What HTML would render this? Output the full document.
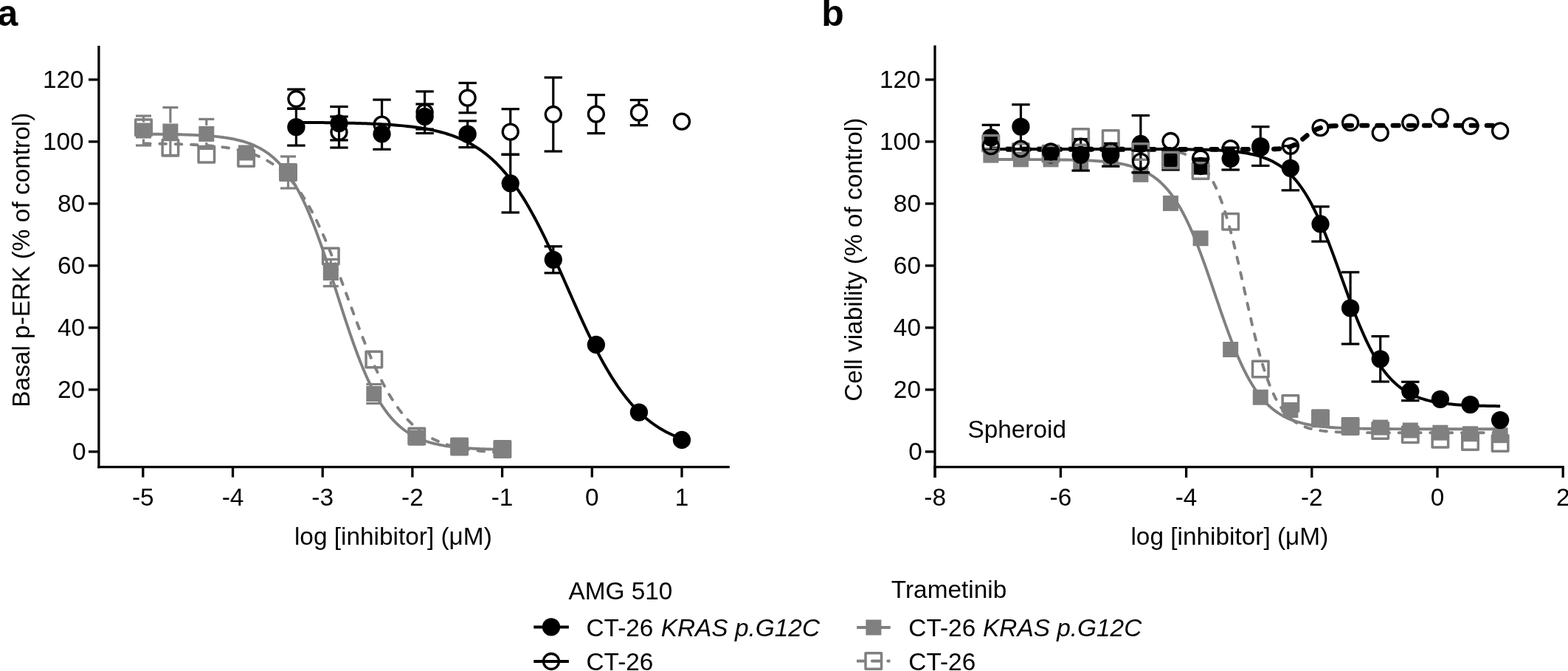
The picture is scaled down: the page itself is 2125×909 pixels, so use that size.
<!DOCTYPE html>
<html><head><meta charset="utf-8"><style>
html,body{margin:0;padding:0;background:#fff;}
svg{display:block;}
</style></head><body>
<svg width="2125" height="909" viewBox="0 0 2125 909">
<rect x="0" y="0" width="2125" height="909" fill="#fff"/>
<g font-family='"Liberation Sans", Arial, Helvetica, sans-serif' fill="#000">
<text x="-3.40" y="34.85" text-anchor="start" font-size="50" font-weight="bold">a</text>
<text x="1113.25" y="34.85" text-anchor="start" font-size="50" font-weight="bold">b</text>
<line x1="133.90" y1="61.90" x2="133.90" y2="634.25" stroke="#000" stroke-width="3.3" />
<line x1="132.25" y1="632.60" x2="988.80" y2="632.60" stroke="#000" stroke-width="3.3" />
<line x1="120.00" y1="611.90" x2="133.90" y2="611.90" stroke="#000" stroke-width="3.3" />
<text x="116.50" y="623.00" text-anchor="end" font-size="33.4" >0</text>
<line x1="120.00" y1="527.90" x2="133.90" y2="527.90" stroke="#000" stroke-width="3.3" />
<text x="115.10" y="539.00" text-anchor="end" font-size="33.4" >20</text>
<line x1="120.00" y1="443.90" x2="133.90" y2="443.90" stroke="#000" stroke-width="3.3" />
<text x="115.10" y="455.00" text-anchor="end" font-size="33.4" >40</text>
<line x1="120.00" y1="359.90" x2="133.90" y2="359.90" stroke="#000" stroke-width="3.3" />
<text x="115.10" y="371.00" text-anchor="end" font-size="33.4" >60</text>
<line x1="120.00" y1="275.90" x2="133.90" y2="275.90" stroke="#000" stroke-width="3.3" />
<text x="115.10" y="287.00" text-anchor="end" font-size="33.4" >80</text>
<line x1="120.00" y1="191.90" x2="133.90" y2="191.90" stroke="#000" stroke-width="3.3" />
<text x="113.60" y="203.00" text-anchor="end" font-size="33.4" >100</text>
<line x1="120.00" y1="107.90" x2="133.90" y2="107.90" stroke="#000" stroke-width="3.3" />
<text x="113.60" y="119.00" text-anchor="end" font-size="33.4" >120</text>
<line x1="193.80" y1="632.60" x2="193.80" y2="646.60" stroke="#000" stroke-width="3.3" />
<text x="193.80" y="684.60" text-anchor="middle" font-size="33.4" >-5</text>
<line x1="315.50" y1="632.60" x2="315.50" y2="646.60" stroke="#000" stroke-width="3.3" />
<text x="315.50" y="684.60" text-anchor="middle" font-size="33.4" >-4</text>
<line x1="437.20" y1="632.60" x2="437.20" y2="646.60" stroke="#000" stroke-width="3.3" />
<text x="437.20" y="684.60" text-anchor="middle" font-size="33.4" >-3</text>
<line x1="558.90" y1="632.60" x2="558.90" y2="646.60" stroke="#000" stroke-width="3.3" />
<text x="558.90" y="684.60" text-anchor="middle" font-size="33.4" >-2</text>
<line x1="680.60" y1="632.60" x2="680.60" y2="646.60" stroke="#000" stroke-width="3.3" />
<text x="680.60" y="684.60" text-anchor="middle" font-size="33.4" >-1</text>
<line x1="802.30" y1="632.60" x2="802.30" y2="646.60" stroke="#000" stroke-width="3.3" />
<text x="802.30" y="684.60" text-anchor="middle" font-size="33.4" >0</text>
<line x1="924.00" y1="632.60" x2="924.00" y2="646.60" stroke="#000" stroke-width="3.3" />
<text x="924.00" y="684.60" text-anchor="middle" font-size="33.4" >1</text>
<line x1="1267.00" y1="61.60" x2="1267.00" y2="647.00" stroke="#000" stroke-width="3.3" />
<line x1="1265.35" y1="632.70" x2="2119.80" y2="632.70" stroke="#000" stroke-width="3.3" />
<line x1="1253.90" y1="611.90" x2="1267.00" y2="611.90" stroke="#000" stroke-width="3.3" />
<text x="1249.90" y="623.00" text-anchor="end" font-size="33.4" >0</text>
<line x1="1253.90" y1="527.90" x2="1267.00" y2="527.90" stroke="#000" stroke-width="3.3" />
<text x="1248.00" y="539.00" text-anchor="end" font-size="33.4" >20</text>
<line x1="1253.90" y1="443.90" x2="1267.00" y2="443.90" stroke="#000" stroke-width="3.3" />
<text x="1248.00" y="455.00" text-anchor="end" font-size="33.4" >40</text>
<line x1="1253.90" y1="359.90" x2="1267.00" y2="359.90" stroke="#000" stroke-width="3.3" />
<text x="1248.00" y="371.00" text-anchor="end" font-size="33.4" >60</text>
<line x1="1253.90" y1="275.90" x2="1267.00" y2="275.90" stroke="#000" stroke-width="3.3" />
<text x="1248.00" y="287.00" text-anchor="end" font-size="33.4" >80</text>
<line x1="1253.90" y1="191.90" x2="1267.00" y2="191.90" stroke="#000" stroke-width="3.3" />
<text x="1247.70" y="203.00" text-anchor="end" font-size="33.4" >100</text>
<line x1="1253.90" y1="107.90" x2="1267.00" y2="107.90" stroke="#000" stroke-width="3.3" />
<text x="1247.70" y="119.00" text-anchor="end" font-size="33.4" >120</text>
<line x1="1267.20" y1="632.70" x2="1267.20" y2="647.00" stroke="#000" stroke-width="3.3" />
<text x="1267.20" y="684.60" text-anchor="middle" font-size="33.4" >-8</text>
<line x1="1437.40" y1="632.70" x2="1437.40" y2="647.00" stroke="#000" stroke-width="3.3" />
<text x="1437.40" y="684.60" text-anchor="middle" font-size="33.4" >-6</text>
<line x1="1607.60" y1="632.70" x2="1607.60" y2="647.00" stroke="#000" stroke-width="3.3" />
<text x="1607.60" y="684.60" text-anchor="middle" font-size="33.4" >-4</text>
<line x1="1777.80" y1="632.70" x2="1777.80" y2="647.00" stroke="#000" stroke-width="3.3" />
<text x="1777.80" y="684.60" text-anchor="middle" font-size="33.4" >-2</text>
<line x1="1948.00" y1="632.70" x2="1948.00" y2="647.00" stroke="#000" stroke-width="3.3" />
<text x="1948.00" y="684.60" text-anchor="middle" font-size="33.4" >0</text>
<line x1="2118.20" y1="632.70" x2="2118.20" y2="647.00" stroke="#000" stroke-width="3.3" />
<text x="2118.20" y="684.60" text-anchor="middle" font-size="33.4" >2</text>
<text transform="translate(39.6,551.7) rotate(-90)" font-size="33.4">Basal p-ERK (% of control)</text>
<text transform="translate(1168.1,543.8) rotate(-90)" font-size="33.4">Cell viability (% of control)</text>
<text x="398.90" y="738.20" text-anchor="start" font-size="33.4" >log [inhibitor] (μM)</text>
<text x="1532.40" y="738.20" text-anchor="start" font-size="33.4" >log [inhibitor] (μM)</text>
<text x="1311.40" y="593.10" text-anchor="start" font-size="33.4" >Spheroid</text>
</g>
<path d="M194.50,181.63 L196.94,181.64 L199.39,181.66 L201.83,181.67 L204.28,181.69 L206.72,181.71 L209.17,181.73 L211.61,181.75 L214.05,181.78 L216.50,181.80 L218.94,181.83 L221.39,181.86 L223.83,181.89 L226.27,181.93 L228.72,181.97 L231.16,182.01 L233.61,182.05 L236.05,182.10 L238.50,182.15 L240.94,182.20 L243.38,182.26 L245.83,182.32 L248.27,182.38 L250.72,182.45 L253.16,182.53 L255.61,182.61 L258.05,182.70 L260.49,182.80 L262.94,182.90 L265.38,183.01 L267.83,183.12 L270.27,183.25 L272.72,183.38 L275.16,183.53 L277.60,183.68 L280.05,183.85 L282.49,184.03 L284.94,184.22 L287.38,184.43 L289.82,184.65 L292.27,184.89 L294.71,185.14 L297.16,185.42 L299.60,185.71 L302.05,186.03 L304.49,186.37 L306.93,186.73 L309.38,187.12 L311.82,187.54 L314.27,187.98 L316.71,188.46 L319.16,188.98 L321.60,189.53 L324.04,190.12 L326.49,190.75 L328.93,191.43 L331.38,192.16 L333.82,192.94 L336.26,193.77 L338.71,194.66 L341.15,195.61 L343.60,196.63 L346.04,197.72 L348.49,198.88 L350.93,200.12 L353.37,201.45 L355.82,202.87 L358.26,204.38 L360.71,205.99 L363.15,207.70 L365.60,209.53 L368.04,211.47 L370.48,213.54 L372.93,215.74 L375.37,218.08 L377.82,220.56 L380.26,223.19 L382.71,225.97 L385.15,228.92 L387.59,232.04 L390.04,235.33 L392.48,238.80 L394.93,242.46 L397.37,246.32 L399.81,250.37 L402.26,254.63 L404.70,259.09 L407.15,263.76 L409.59,268.64 L412.04,273.73 L414.48,279.03 L416.92,284.55 L419.37,290.27 L421.81,296.20 L424.26,302.33 L426.70,308.66 L429.15,315.17 L431.59,321.86 L434.03,328.72 L436.48,335.73 L438.92,342.88 L441.37,350.16 L443.81,357.56 L446.25,365.04 L448.70,372.61 L451.14,380.23 L453.59,387.89 L456.03,395.57 L458.48,403.25 L460.92,410.91 L463.36,418.53 L465.81,426.09 L468.25,433.58 L470.70,440.97 L473.14,448.25 L475.59,455.40 L478.03,462.40 L480.47,469.26 L482.92,475.94 L485.36,482.45 L487.81,488.77 L490.25,494.89 L492.69,500.82 L495.14,506.54 L497.58,512.05 L500.03,517.34 L502.47,522.43 L504.92,527.30 L507.36,531.97 L509.80,536.42 L512.25,540.67 L514.69,544.72 L517.14,548.57 L519.58,552.23 L522.03,555.69 L524.47,558.98 L526.91,562.10 L529.36,565.04 L531.80,567.82 L534.25,570.44 L536.69,572.92 L539.14,575.25 L541.58,577.45 L544.02,579.51 L546.47,581.45 L548.91,583.28 L551.36,584.99 L553.80,586.60 L556.24,588.11 L558.69,589.52 L561.13,590.84 L563.58,592.08 L566.02,593.24 L568.47,594.33 L570.91,595.35 L573.35,596.30 L575.80,597.19 L578.24,598.02 L580.69,598.79 L583.13,599.52 L585.58,600.19 L588.02,600.83 L590.46,601.42 L592.91,601.97 L595.35,602.48 L597.80,602.96 L600.24,603.41 L602.68,603.82 L605.13,604.21 L607.57,604.57 L610.02,604.91 L612.46,605.23 L614.91,605.52 L617.35,605.79 L619.79,606.05 L622.24,606.29 L624.68,606.51 L627.13,606.71 L629.57,606.91 L632.02,607.08 L634.46,607.25 L636.90,607.41 L639.35,607.55 L641.79,607.69 L644.24,607.81 L646.68,607.93 L649.13,608.04 L651.57,608.14 L654.01,608.23 L656.46,608.32 L658.90,608.40 L661.35,608.48 L663.79,608.55 L666.23,608.62 L668.68,608.68 L671.12,608.73 L673.57,608.79 L676.01,608.84 L678.46,608.88 L680.90,608.93" fill="none" stroke="#808080" stroke-width="3.9"/>
<path d="M194.50,194.49 L196.94,194.51 L199.39,194.53 L201.83,194.56 L204.28,194.58 L206.72,194.61 L209.17,194.64 L211.61,194.67 L214.05,194.70 L216.50,194.74 L218.94,194.78 L221.39,194.82 L223.83,194.86 L226.27,194.90 L228.72,194.95 L231.16,195.00 L233.61,195.06 L236.05,195.11 L238.50,195.18 L240.94,195.24 L243.38,195.31 L245.83,195.39 L248.27,195.46 L250.72,195.55 L253.16,195.64 L255.61,195.73 L258.05,195.84 L260.49,195.95 L262.94,196.06 L265.38,196.18 L267.83,196.31 L270.27,196.45 L272.72,196.60 L275.16,196.76 L277.60,196.93 L280.05,197.11 L282.49,197.30 L284.94,197.50 L287.38,197.72 L289.82,197.95 L292.27,198.19 L294.71,198.45 L297.16,198.73 L299.60,199.02 L302.05,199.33 L304.49,199.67 L306.93,200.02 L309.38,200.40 L311.82,200.80 L314.27,201.22 L316.71,201.67 L319.16,202.15 L321.60,202.67 L324.04,203.21 L326.49,203.78 L328.93,204.40 L331.38,205.05 L333.82,205.74 L336.26,206.47 L338.71,207.25 L341.15,208.07 L343.60,208.95 L346.04,209.88 L348.49,210.86 L350.93,211.90 L353.37,213.01 L355.82,214.18 L358.26,215.42 L360.71,216.73 L363.15,218.12 L365.60,219.59 L368.04,221.14 L370.48,222.78 L372.93,224.51 L375.37,226.34 L377.82,228.27 L380.26,230.30 L382.71,232.45 L385.15,234.70 L387.59,237.08 L390.04,239.58 L392.48,242.20 L394.93,244.96 L397.37,247.85 L399.81,250.88 L402.26,254.05 L404.70,257.37 L407.15,260.84 L409.59,264.46 L412.04,268.24 L414.48,272.18 L416.92,276.28 L419.37,280.53 L421.81,284.95 L424.26,289.53 L426.70,294.27 L429.15,299.18 L431.59,304.23 L434.03,309.45 L436.48,314.81 L438.92,320.32 L441.37,325.98 L443.81,331.76 L446.25,337.68 L448.70,343.71 L451.14,349.86 L453.59,356.11 L456.03,362.45 L458.48,368.87 L460.92,375.36 L463.36,381.91 L465.81,388.50 L468.25,395.12 L470.70,401.76 L473.14,408.41 L475.59,415.05 L478.03,421.67 L480.47,428.26 L482.92,434.80 L485.36,441.28 L487.81,447.69 L490.25,454.01 L492.69,460.25 L495.14,466.38 L497.58,472.39 L500.03,478.29 L502.47,484.06 L504.92,489.69 L507.36,495.18 L509.80,500.52 L512.25,505.71 L514.69,510.74 L517.14,515.62 L519.58,520.33 L522.03,524.89 L524.47,529.28 L526.91,533.52 L529.36,537.59 L531.80,541.50 L534.25,545.26 L536.69,548.85 L539.14,552.30 L541.58,555.60 L544.02,558.75 L546.47,561.76 L548.91,564.63 L551.36,567.36 L553.80,569.97 L556.24,572.44 L558.69,574.80 L561.13,577.04 L563.58,579.17 L566.02,581.18 L568.47,583.10 L570.91,584.91 L573.35,586.63 L575.80,588.25 L578.24,589.79 L580.69,591.25 L583.13,592.62 L585.58,593.93 L588.02,595.15 L590.46,596.31 L592.91,597.41 L595.35,598.44 L597.80,599.42 L600.24,600.34 L602.68,601.21 L605.13,602.02 L607.57,602.80 L610.02,603.52 L612.46,604.21 L614.91,604.85 L617.35,605.46 L619.79,606.03 L622.24,606.56 L624.68,607.07 L627.13,607.55 L629.57,607.99 L632.02,608.42 L634.46,608.81 L636.90,609.18 L639.35,609.54 L641.79,609.86 L644.24,610.17 L646.68,610.47 L649.13,610.74 L651.57,611.00 L654.01,611.24 L656.46,611.47 L658.90,611.68 L661.35,611.88 L663.79,612.07 L666.23,612.25 L668.68,612.41 L671.12,612.57 L673.57,612.72 L676.01,612.86 L678.46,612.98 L680.90,613.11" fill="none" stroke="#808080" stroke-width="3.9" stroke-dasharray="8.6 12.7" stroke-dashoffset="20.66" stroke-linecap="round"/>
<path d="M401.41,165.83 L404.04,165.84 L406.66,165.86 L409.29,165.87 L411.91,165.89 L414.54,165.91 L417.17,165.93 L419.79,165.95 L422.42,165.97 L425.05,165.99 L427.67,166.01 L430.30,166.04 L432.92,166.06 L435.55,166.09 L438.18,166.12 L440.80,166.15 L443.43,166.18 L446.05,166.21 L448.68,166.25 L451.31,166.28 L453.93,166.32 L456.56,166.36 L459.18,166.40 L461.81,166.45 L464.44,166.50 L467.06,166.55 L469.69,166.60 L472.31,166.66 L474.94,166.72 L477.57,166.78 L480.19,166.85 L482.82,166.92 L485.44,166.99 L488.07,167.07 L490.70,167.15 L493.32,167.23 L495.95,167.33 L498.58,167.42 L501.20,167.52 L503.83,167.63 L506.45,167.74 L509.08,167.86 L511.71,167.98 L514.33,168.11 L516.96,168.25 L519.58,168.40 L522.21,168.55 L524.84,168.71 L527.46,168.88 L530.09,169.06 L532.71,169.25 L535.34,169.45 L537.97,169.66 L540.59,169.89 L543.22,170.12 L545.84,170.37 L548.47,170.63 L551.10,170.90 L553.72,171.19 L556.35,171.49 L558.98,171.81 L561.60,172.15 L564.23,172.50 L566.85,172.87 L569.48,173.27 L572.11,173.68 L574.73,174.12 L577.36,174.57 L579.98,175.06 L582.61,175.56 L585.24,176.10 L587.86,176.66 L590.49,177.25 L593.11,177.87 L595.74,178.52 L598.37,179.21 L600.99,179.93 L603.62,180.69 L606.24,181.49 L608.87,182.33 L611.50,183.21 L614.12,184.14 L616.75,185.11 L619.37,186.13 L622.00,187.20 L624.63,188.32 L627.25,189.50 L629.88,190.74 L632.51,192.03 L635.13,193.39 L637.76,194.81 L640.38,196.30 L643.01,197.87 L645.64,199.50 L648.26,201.21 L650.89,202.99 L653.51,204.86 L656.14,206.81 L658.77,208.85 L661.39,210.98 L664.02,213.20 L666.64,215.52 L669.27,217.93 L671.90,220.44 L674.52,223.06 L677.15,225.78 L679.77,228.62 L682.40,231.56 L685.03,234.61 L687.65,237.78 L690.28,241.06 L692.91,244.47 L695.53,247.99 L698.16,251.63 L700.78,255.39 L703.41,259.28 L706.04,263.29 L708.66,267.42 L711.29,271.67 L713.91,276.04 L716.54,280.53 L719.17,285.14 L721.79,289.86 L724.42,294.70 L727.04,299.65 L729.67,304.71 L732.30,309.86 L734.92,315.12 L737.55,320.47 L740.17,325.91 L742.80,331.43 L745.43,337.02 L748.05,342.69 L750.68,348.42 L753.30,354.20 L755.93,360.04 L758.56,365.91 L761.18,371.82 L763.81,377.75 L766.44,383.70 L769.06,389.65 L771.69,395.61 L774.31,401.55 L776.94,407.48 L779.57,413.38 L782.19,419.25 L784.82,425.08 L787.44,430.85 L790.07,436.57 L792.70,442.23 L795.32,447.81 L797.95,453.32 L800.57,458.74 L803.20,464.08 L805.83,469.31 L808.45,474.45 L811.08,479.49 L813.70,484.42 L816.33,489.24 L818.96,493.95 L821.58,498.54 L824.21,503.01 L826.84,507.36 L829.46,511.59 L832.09,515.70 L834.71,519.68 L837.34,523.55 L839.97,527.29 L842.59,530.91 L845.22,534.42 L847.84,537.80 L850.47,541.06 L853.10,544.21 L855.72,547.25 L858.35,550.17 L860.97,552.98 L863.60,555.69 L866.23,558.29 L868.85,560.78 L871.48,563.18 L874.10,565.48 L876.73,567.68 L879.36,569.80 L881.98,571.82 L884.61,573.76 L887.23,575.61 L889.86,577.38 L892.49,579.08 L895.11,580.70 L897.74,582.25 L900.37,583.73 L902.99,585.14 L905.62,586.49 L908.24,587.77 L910.87,589.00 L913.50,590.17 L916.12,591.28 L918.75,592.34 L921.37,593.36 L924.00,594.32" fill="none" stroke="#000" stroke-width="4.0"/>
<path d="M1342.85,215.99 L1346.32,215.99 L1349.79,215.99 L1353.26,216.00 L1356.72,216.00 L1360.19,216.00 L1363.66,216.01 L1367.13,216.01 L1370.60,216.02 L1374.07,216.02 L1377.54,216.03 L1381.00,216.04 L1384.47,216.04 L1387.94,216.05 L1391.41,216.06 L1394.88,216.08 L1398.35,216.09 L1401.82,216.10 L1405.29,216.12 L1408.75,216.14 L1412.22,216.16 L1415.69,216.18 L1419.16,216.21 L1422.63,216.24 L1426.10,216.27 L1429.57,216.30 L1433.03,216.34 L1436.50,216.39 L1439.97,216.44 L1443.44,216.49 L1446.91,216.55 L1450.38,216.62 L1453.85,216.70 L1457.31,216.79 L1460.78,216.88 L1464.25,216.99 L1467.72,217.11 L1471.19,217.25 L1474.66,217.40 L1478.13,217.57 L1481.59,217.75 L1485.06,217.96 L1488.53,218.20 L1492.00,218.46 L1495.47,218.75 L1498.94,219.08 L1502.41,219.45 L1505.87,219.85 L1509.34,220.31 L1512.81,220.81 L1516.28,221.38 L1519.75,222.01 L1523.22,222.71 L1526.69,223.49 L1530.15,224.36 L1533.62,225.32 L1537.09,226.40 L1540.56,227.59 L1544.03,228.92 L1547.50,230.39 L1550.97,232.02 L1554.43,233.82 L1557.90,235.82 L1561.37,238.02 L1564.84,240.46 L1568.31,243.14 L1571.78,246.08 L1575.25,249.32 L1578.71,252.86 L1582.18,256.74 L1585.65,260.97 L1589.12,265.56 L1592.59,270.55 L1596.06,275.94 L1599.53,281.76 L1602.99,288.00 L1606.46,294.68 L1609.93,301.80 L1613.40,309.35 L1616.87,317.33 L1620.34,325.71 L1623.81,334.47 L1627.27,343.59 L1630.74,353.01 L1634.21,362.70 L1637.68,372.61 L1641.15,382.68 L1644.62,392.84 L1648.09,403.04 L1651.56,413.21 L1655.02,423.30 L1658.49,433.23 L1661.96,442.95 L1665.43,452.42 L1668.90,461.57 L1672.37,470.38 L1675.84,478.82 L1679.30,486.85 L1682.77,494.45 L1686.24,501.63 L1689.71,508.37 L1693.18,514.67 L1696.65,520.54 L1700.12,525.98 L1703.58,531.02 L1707.05,535.67 L1710.52,539.94 L1713.99,543.86 L1717.46,547.45 L1720.93,550.72 L1724.40,553.70 L1727.86,556.42 L1731.33,558.88 L1734.80,561.11 L1738.27,563.14 L1741.74,564.97 L1745.21,566.62 L1748.68,568.11 L1752.14,569.45 L1755.61,570.66 L1759.08,571.75 L1762.55,572.73 L1766.02,573.61 L1769.49,574.40 L1772.96,575.11 L1776.42,575.75 L1779.89,576.33 L1783.36,576.84 L1786.83,577.30 L1790.30,577.71 L1793.77,578.08 L1797.24,578.41 L1800.70,578.71 L1804.17,578.98 L1807.64,579.22 L1811.11,579.43 L1814.58,579.62 L1818.05,579.79 L1821.52,579.94 L1824.98,580.08 L1828.45,580.20 L1831.92,580.31 L1835.39,580.41 L1838.86,580.50 L1842.33,580.58 L1845.80,580.65 L1849.26,580.71 L1852.73,580.77 L1856.20,580.82 L1859.67,580.86 L1863.14,580.90 L1866.61,580.94 L1870.08,580.97 L1873.54,581.00 L1877.01,581.02 L1880.48,581.05 L1883.95,581.07 L1887.42,581.09 L1890.89,581.10 L1894.36,581.12 L1897.82,581.13 L1901.29,581.14 L1904.76,581.15 L1908.23,581.16 L1911.70,581.17 L1915.17,581.18 L1918.64,581.19 L1922.11,581.19 L1925.57,581.20 L1929.04,581.20 L1932.51,581.21 L1935.98,581.21 L1939.45,581.21 L1942.92,581.22 L1946.39,581.22 L1949.85,581.22 L1953.32,581.22 L1956.79,581.23 L1960.26,581.23 L1963.73,581.23 L1967.20,581.23 L1970.67,581.23 L1974.13,581.23 L1977.60,581.23 L1981.07,581.24 L1984.54,581.24 L1988.01,581.24 L1991.48,581.24 L1994.95,581.24 L1998.41,581.24 L2001.88,581.24 L2005.35,581.24 L2008.82,581.24 L2012.29,581.24 L2015.76,581.24 L2019.23,581.24 L2022.69,581.24 L2026.16,581.24 L2029.63,581.24 L2033.10,581.24" fill="none" stroke="#808080" stroke-width="3.9"/>
<path d="M1342.85,200.30 L1346.32,200.30 L1349.79,200.30 L1353.26,200.30 L1356.72,200.30 L1360.19,200.30 L1363.66,200.30 L1367.13,200.30 L1370.60,200.30 L1374.07,200.30 L1377.54,200.30 L1381.00,200.30 L1384.47,200.30 L1387.94,200.30 L1391.41,200.30 L1394.88,200.30 L1398.35,200.30 L1401.82,200.30 L1405.29,200.30 L1408.75,200.30 L1412.22,200.30 L1415.69,200.30 L1419.16,200.30 L1422.63,200.30 L1426.10,200.30 L1429.57,200.30 L1433.03,200.31 L1436.50,200.31 L1439.97,200.31 L1443.44,200.31 L1446.91,200.31 L1450.38,200.31 L1453.85,200.31 L1457.31,200.31 L1460.78,200.31 L1464.25,200.31 L1467.72,200.32 L1471.19,200.32 L1474.66,200.32 L1478.13,200.32 L1481.59,200.33 L1485.06,200.33 L1488.53,200.34 L1492.00,200.34 L1495.47,200.35 L1498.94,200.36 L1502.41,200.37 L1505.87,200.38 L1509.34,200.40 L1512.81,200.41 L1516.28,200.43 L1519.75,200.45 L1523.22,200.48 L1526.69,200.51 L1530.15,200.55 L1533.62,200.59 L1537.09,200.64 L1540.56,200.70 L1544.03,200.77 L1547.50,200.86 L1550.97,200.96 L1554.43,201.07 L1557.90,201.21 L1561.37,201.37 L1564.84,201.56 L1568.31,201.78 L1571.78,202.04 L1575.25,202.34 L1578.71,202.70 L1582.18,203.13 L1585.65,203.62 L1589.12,204.21 L1592.59,204.89 L1596.06,205.69 L1599.53,206.63 L1602.99,207.73 L1606.46,209.02 L1609.93,210.52 L1613.40,212.28 L1616.87,214.32 L1620.34,216.70 L1623.81,219.46 L1627.27,222.66 L1630.74,226.36 L1634.21,230.62 L1637.68,235.50 L1641.15,241.08 L1644.62,247.43 L1648.09,254.61 L1651.56,262.68 L1655.02,271.69 L1658.49,281.68 L1661.96,292.65 L1665.43,304.60 L1668.90,317.48 L1672.37,331.20 L1675.84,345.67 L1679.30,360.73 L1682.77,376.21 L1686.24,391.91 L1689.71,407.64 L1693.18,423.17 L1696.65,438.32 L1700.12,452.90 L1703.58,466.77 L1707.05,479.80 L1710.52,491.92 L1713.99,503.06 L1717.46,513.22 L1720.93,522.41 L1724.40,530.64 L1727.86,537.97 L1731.33,544.46 L1734.80,550.17 L1738.27,555.17 L1741.74,559.54 L1745.21,563.33 L1748.68,566.61 L1752.14,569.45 L1755.61,571.89 L1759.08,573.99 L1762.55,575.79 L1766.02,577.34 L1769.49,578.66 L1772.96,579.79 L1776.42,580.76 L1779.89,581.58 L1783.36,582.29 L1786.83,582.89 L1790.30,583.40 L1793.77,583.83 L1797.24,584.20 L1800.70,584.52 L1804.17,584.78 L1807.64,585.01 L1811.11,585.20 L1814.58,585.37 L1818.05,585.51 L1821.52,585.63 L1824.98,585.73 L1828.45,585.82 L1831.92,585.89 L1835.39,585.95 L1838.86,586.00 L1842.33,586.05 L1845.80,586.09 L1849.26,586.12 L1852.73,586.15 L1856.20,586.17 L1859.67,586.19 L1863.14,586.21 L1866.61,586.22 L1870.08,586.23 L1873.54,586.24 L1877.01,586.25 L1880.48,586.26 L1883.95,586.27 L1887.42,586.27 L1890.89,586.28 L1894.36,586.28 L1897.82,586.28 L1901.29,586.29 L1904.76,586.29 L1908.23,586.29 L1911.70,586.29 L1915.17,586.29 L1918.64,586.29 L1922.11,586.30 L1925.57,586.30 L1929.04,586.30 L1932.51,586.30 L1935.98,586.30 L1939.45,586.30 L1942.92,586.30 L1946.39,586.30 L1949.85,586.30 L1953.32,586.30 L1956.79,586.30 L1960.26,586.30 L1963.73,586.30 L1967.20,586.30 L1970.67,586.30 L1974.13,586.30 L1977.60,586.30 L1981.07,586.30 L1984.54,586.30 L1988.01,586.30 L1991.48,586.30 L1994.95,586.30 L1998.41,586.30 L2001.88,586.30 L2005.35,586.30 L2008.82,586.30 L2012.29,586.30 L2015.76,586.30 L2019.23,586.30 L2022.69,586.30 L2026.16,586.30 L2029.63,586.30 L2033.10,586.30" fill="none" stroke="#808080" stroke-width="3.9" stroke-dasharray="8.6 12.7" stroke-dashoffset="21.25" stroke-linecap="round"/>
<path d="M1342.85,201.88 L1346.32,201.88 L1349.79,201.89 L1353.26,201.89 L1356.72,201.89 L1360.19,201.89 L1363.66,201.89 L1367.13,201.89 L1370.60,201.89 L1374.07,201.89 L1377.54,201.89 L1381.00,201.89 L1384.47,201.89 L1387.94,201.89 L1391.41,201.89 L1394.88,201.89 L1398.35,201.89 L1401.82,201.89 L1405.29,201.89 L1408.75,201.89 L1412.22,201.89 L1415.69,201.89 L1419.16,201.89 L1422.63,201.89 L1426.10,201.89 L1429.57,201.89 L1433.03,201.89 L1436.50,201.89 L1439.97,201.89 L1443.44,201.89 L1446.91,201.89 L1450.38,201.89 L1453.85,201.89 L1457.31,201.89 L1460.78,201.89 L1464.25,201.89 L1467.72,201.89 L1471.19,201.89 L1474.66,201.89 L1478.13,201.89 L1481.59,201.89 L1485.06,201.89 L1488.53,201.89 L1492.00,201.90 L1495.47,201.90 L1498.94,201.90 L1502.41,201.90 L1505.87,201.90 L1509.34,201.90 L1512.81,201.91 L1516.28,201.91 L1519.75,201.91 L1523.22,201.91 L1526.69,201.92 L1530.15,201.92 L1533.62,201.92 L1537.09,201.93 L1540.56,201.93 L1544.03,201.94 L1547.50,201.95 L1550.97,201.95 L1554.43,201.96 L1557.90,201.97 L1561.37,201.98 L1564.84,201.99 L1568.31,202.01 L1571.78,202.02 L1575.25,202.04 L1578.71,202.05 L1582.18,202.07 L1585.65,202.09 L1589.12,202.12 L1592.59,202.15 L1596.06,202.18 L1599.53,202.21 L1602.99,202.25 L1606.46,202.29 L1609.93,202.34 L1613.40,202.39 L1616.87,202.45 L1620.34,202.52 L1623.81,202.59 L1627.27,202.67 L1630.74,202.77 L1634.21,202.87 L1637.68,202.98 L1641.15,203.11 L1644.62,203.26 L1648.09,203.41 L1651.56,203.59 L1655.02,203.79 L1658.49,204.01 L1661.96,204.26 L1665.43,204.54 L1668.90,204.84 L1672.37,205.19 L1675.84,205.57 L1679.30,205.99 L1682.77,206.47 L1686.24,207.00 L1689.71,207.58 L1693.18,208.24 L1696.65,208.97 L1700.12,209.78 L1703.58,210.68 L1707.05,211.68 L1710.52,212.79 L1713.99,214.02 L1717.46,215.38 L1720.93,216.89 L1724.40,218.56 L1727.86,220.41 L1731.33,222.45 L1734.80,224.69 L1738.27,227.17 L1741.74,229.89 L1745.21,232.87 L1748.68,236.14 L1752.14,239.71 L1755.61,243.60 L1759.08,247.84 L1762.55,252.44 L1766.02,257.41 L1769.49,262.77 L1772.96,268.53 L1776.42,274.69 L1779.89,281.27 L1783.36,288.25 L1786.83,295.64 L1790.30,303.41 L1793.77,311.55 L1797.24,320.03 L1800.70,328.82 L1804.17,337.87 L1807.64,347.15 L1811.11,356.60 L1814.58,366.17 L1818.05,375.80 L1821.52,385.44 L1824.98,395.01 L1828.45,404.48 L1831.92,413.77 L1835.39,422.85 L1838.86,431.66 L1842.33,440.17 L1845.80,448.34 L1849.26,456.15 L1852.73,463.57 L1856.20,470.59 L1859.67,477.20 L1863.14,483.41 L1866.61,489.20 L1870.08,494.60 L1873.54,499.60 L1877.01,504.23 L1880.48,508.50 L1883.95,512.42 L1887.42,516.02 L1890.89,519.31 L1894.36,522.32 L1897.82,525.06 L1901.29,527.56 L1904.76,529.83 L1908.23,531.88 L1911.70,533.75 L1915.17,535.43 L1918.64,536.96 L1922.11,538.33 L1925.57,539.57 L1929.04,540.69 L1932.51,541.70 L1935.98,542.61 L1939.45,543.43 L1942.92,544.16 L1946.39,544.82 L1949.85,545.42 L1953.32,545.95 L1956.79,546.43 L1960.26,546.86 L1963.73,547.25 L1967.20,547.59 L1970.67,547.90 L1974.13,548.18 L1977.60,548.43 L1981.07,548.65 L1984.54,548.86 L1988.01,549.03 L1991.48,549.20 L1994.95,549.34 L1998.41,549.47 L2001.88,549.59 L2005.35,549.69 L2008.82,549.78 L2012.29,549.87 L2015.76,549.94 L2019.23,550.01 L2022.69,550.07 L2026.16,550.12 L2029.63,550.17 L2033.10,550.21" fill="none" stroke="#000" stroke-width="4.0"/>
<path d="M1342.85,202.40 L1346.32,202.40 L1349.79,202.40 L1353.26,202.40 L1356.72,202.40 L1360.19,202.40 L1363.66,202.40 L1367.13,202.40 L1370.60,202.40 L1374.07,202.40 L1377.54,202.40 L1381.00,202.40 L1384.47,202.40 L1387.94,202.40 L1391.41,202.40 L1394.88,202.40 L1398.35,202.40 L1401.82,202.40 L1405.29,202.40 L1408.75,202.40 L1412.22,202.40 L1415.69,202.40 L1419.16,202.40 L1422.63,202.40 L1426.10,202.40 L1429.57,202.40 L1433.03,202.40 L1436.50,202.40 L1439.97,202.40 L1443.44,202.40 L1446.91,202.40 L1450.38,202.40 L1453.85,202.40 L1457.31,202.40 L1460.78,202.40 L1464.25,202.40 L1467.72,202.40 L1471.19,202.40 L1474.66,202.40 L1478.13,202.40 L1481.59,202.40 L1485.06,202.40 L1488.53,202.40 L1492.00,202.40 L1495.47,202.40 L1498.94,202.40 L1502.41,202.40 L1505.87,202.40 L1509.34,202.40 L1512.81,202.40 L1516.28,202.40 L1519.75,202.40 L1523.22,202.40 L1526.69,202.40 L1530.15,202.40 L1533.62,202.40 L1537.09,202.40 L1540.56,202.40 L1544.03,202.40 L1547.50,202.40 L1550.97,202.40 L1554.43,202.40 L1557.90,202.40 L1561.37,202.40 L1564.84,202.40 L1568.31,202.40 L1571.78,202.40 L1575.25,202.40 L1578.71,202.40 L1582.18,202.40 L1585.65,202.40 L1589.12,202.40 L1592.59,202.40 L1596.06,202.40 L1599.53,202.40 L1602.99,202.40 L1606.46,202.40 L1609.93,202.40 L1613.40,202.40 L1616.87,202.40 L1620.34,202.40 L1623.81,202.40 L1627.27,202.40 L1630.74,202.40 L1634.21,202.40 L1637.68,202.40 L1641.15,202.40 L1644.62,202.40 L1648.09,202.40 L1651.56,202.40 L1655.02,202.40 L1658.49,202.40 L1661.96,202.40 L1665.43,202.40 L1668.90,202.40 L1672.37,202.40 L1675.84,202.40 L1679.30,202.40 L1682.77,202.40 L1686.24,202.39 L1689.71,202.39 L1693.18,202.39 L1696.65,202.38 L1700.12,202.37 L1703.58,202.36 L1707.05,202.34 L1710.52,202.32 L1713.99,202.28 L1717.46,202.23 L1720.93,202.16 L1724.40,202.06 L1727.86,201.91 L1731.33,201.71 L1734.80,201.41 L1738.27,201.00 L1741.74,200.44 L1745.21,199.66 L1748.68,198.61 L1752.14,197.22 L1755.61,195.46 L1759.08,193.30 L1762.55,190.77 L1766.02,187.97 L1769.49,185.07 L1772.96,182.23 L1776.42,179.64 L1779.89,177.40 L1783.36,175.56 L1786.83,174.10 L1790.30,172.99 L1793.77,172.16 L1797.24,171.55 L1800.70,171.12 L1804.17,170.80 L1807.64,170.58 L1811.11,170.43 L1814.58,170.32 L1818.05,170.24 L1821.52,170.19 L1824.98,170.15 L1828.45,170.12 L1831.92,170.10 L1835.39,170.09 L1838.86,170.08 L1842.33,170.07 L1845.80,170.07 L1849.26,170.07 L1852.73,170.06 L1856.20,170.06 L1859.67,170.06 L1863.14,170.06 L1866.61,170.06 L1870.08,170.06 L1873.54,170.06 L1877.01,170.06 L1880.48,170.06 L1883.95,170.06 L1887.42,170.06 L1890.89,170.06 L1894.36,170.06 L1897.82,170.06 L1901.29,170.06 L1904.76,170.06 L1908.23,170.06 L1911.70,170.06 L1915.17,170.06 L1918.64,170.06 L1922.11,170.06 L1925.57,170.06 L1929.04,170.06 L1932.51,170.06 L1935.98,170.06 L1939.45,170.06 L1942.92,170.06 L1946.39,170.06 L1949.85,170.06 L1953.32,170.06 L1956.79,170.06 L1960.26,170.06 L1963.73,170.06 L1967.20,170.06 L1970.67,170.06 L1974.13,170.06 L1977.60,170.06 L1981.07,170.06 L1984.54,170.06 L1988.01,170.06 L1991.48,170.06 L1994.95,170.06 L1998.41,170.06 L2001.88,170.06 L2005.35,170.06 L2008.82,170.06 L2012.29,170.06 L2015.76,170.06 L2019.23,170.06 L2022.69,170.06 L2026.16,170.06 L2029.63,170.06 L2033.10,170.06" fill="none" stroke="#000" stroke-width="6.6" stroke-dasharray="7.6 13.6" stroke-dashoffset="19.27" stroke-linecap="round"/>
<line x1="194.50" y1="157.00" x2="194.50" y2="165.50" stroke="#808080" stroke-width="3.2" />
<line x1="194.50" y1="188.50" x2="194.50" y2="197.00" stroke="#808080" stroke-width="3.2" />
<line x1="184.00" y1="157.00" x2="205.00" y2="157.00" stroke="#808080" stroke-width="3.2" />
<line x1="184.00" y1="197.00" x2="205.00" y2="197.00" stroke="#808080" stroke-width="3.2" />
<line x1="230.90" y1="145.60" x2="230.90" y2="166.50" stroke="#808080" stroke-width="3.2" />
<line x1="230.90" y1="189.50" x2="230.90" y2="210.40" stroke="#808080" stroke-width="3.2" />
<line x1="220.40" y1="145.60" x2="241.40" y2="145.60" stroke="#808080" stroke-width="3.2" />
<line x1="220.40" y1="210.40" x2="241.40" y2="210.40" stroke="#808080" stroke-width="3.2" />
<line x1="279.80" y1="161.40" x2="279.80" y2="169.90" stroke="#808080" stroke-width="3.2" />
<line x1="279.80" y1="192.90" x2="279.80" y2="201.40" stroke="#808080" stroke-width="3.2" />
<line x1="269.30" y1="161.40" x2="290.30" y2="161.40" stroke="#808080" stroke-width="3.2" />
<line x1="269.30" y1="201.40" x2="290.30" y2="201.40" stroke="#808080" stroke-width="3.2" />
<line x1="323.10" y1="199.00" x2="344.10" y2="199.00" stroke="#808080" stroke-width="3.2" />
<line x1="323.10" y1="215.00" x2="344.10" y2="215.00" stroke="#808080" stroke-width="3.2" />
<line x1="390.50" y1="212.00" x2="390.50" y2="222.00" stroke="#808080" stroke-width="3.2" />
<line x1="390.50" y1="245.00" x2="390.50" y2="255.00" stroke="#808080" stroke-width="3.2" />
<line x1="380.00" y1="212.00" x2="401.00" y2="212.00" stroke="#808080" stroke-width="3.2" />
<line x1="380.00" y1="255.00" x2="401.00" y2="255.00" stroke="#808080" stroke-width="3.2" />
<line x1="448.30" y1="351.30" x2="448.30" y2="358.00" stroke="#808080" stroke-width="3.2" />
<line x1="448.30" y1="381.00" x2="448.30" y2="387.70" stroke="#808080" stroke-width="3.2" />
<line x1="437.80" y1="351.30" x2="458.80" y2="351.30" stroke="#808080" stroke-width="3.2" />
<line x1="437.80" y1="387.70" x2="458.80" y2="387.70" stroke="#808080" stroke-width="3.2" />
<line x1="506.80" y1="520.50" x2="506.80" y2="522.00" stroke="#808080" stroke-width="3.2" />
<line x1="506.80" y1="545.00" x2="506.80" y2="546.50" stroke="#808080" stroke-width="3.2" />
<line x1="496.30" y1="520.50" x2="517.30" y2="520.50" stroke="#808080" stroke-width="3.2" />
<line x1="496.30" y1="546.50" x2="517.30" y2="546.50" stroke="#808080" stroke-width="3.2" />
<rect x="184.00" y="166.50" width="21.0" height="21.0" fill="#808080"/>
<rect x="220.40" y="167.50" width="21.0" height="21.0" fill="#808080"/>
<rect x="269.30" y="170.90" width="21.0" height="21.0" fill="#808080"/>
<rect x="323.10" y="196.50" width="21.0" height="21.0" fill="#808080"/>
<rect x="380.00" y="223.00" width="21.0" height="21.0" fill="#808080"/>
<rect x="437.80" y="359.00" width="21.0" height="21.0" fill="#808080"/>
<rect x="496.30" y="523.00" width="21.0" height="21.0" fill="#808080"/>
<rect x="554.30" y="582.50" width="21.0" height="21.0" fill="#808080"/>
<rect x="612.10" y="594.50" width="21.0" height="21.0" fill="#808080"/>
<rect x="670.40" y="598.10" width="21.0" height="21.0" fill="#808080"/>
<line x1="401.41" y1="147.30" x2="401.41" y2="160.70" stroke="#000" stroke-width="3.2" />
<line x1="401.41" y1="183.70" x2="401.41" y2="197.10" stroke="#000" stroke-width="3.2" />
<line x1="389.21" y1="147.30" x2="413.61" y2="147.30" stroke="#000" stroke-width="3.2" />
<line x1="389.21" y1="197.10" x2="413.61" y2="197.10" stroke="#000" stroke-width="3.2" />
<line x1="459.48" y1="144.50" x2="459.48" y2="155.70" stroke="#000" stroke-width="3.2" />
<line x1="459.48" y1="178.70" x2="459.48" y2="189.90" stroke="#000" stroke-width="3.2" />
<line x1="447.28" y1="144.50" x2="471.68" y2="144.50" stroke="#000" stroke-width="3.2" />
<line x1="447.28" y1="189.90" x2="471.68" y2="189.90" stroke="#000" stroke-width="3.2" />
<line x1="575.61" y1="141.00" x2="575.61" y2="146.50" stroke="#000" stroke-width="3.2" />
<line x1="575.61" y1="169.50" x2="575.61" y2="175.00" stroke="#000" stroke-width="3.2" />
<line x1="563.41" y1="141.00" x2="587.81" y2="141.00" stroke="#000" stroke-width="3.2" />
<line x1="563.41" y1="175.00" x2="587.81" y2="175.00" stroke="#000" stroke-width="3.2" />
<line x1="633.67" y1="163.80" x2="633.67" y2="170.20" stroke="#000" stroke-width="3.2" />
<line x1="633.67" y1="193.20" x2="633.67" y2="199.60" stroke="#000" stroke-width="3.2" />
<line x1="621.47" y1="163.80" x2="645.87" y2="163.80" stroke="#000" stroke-width="3.2" />
<line x1="621.47" y1="199.60" x2="645.87" y2="199.60" stroke="#000" stroke-width="3.2" />
<line x1="691.74" y1="209.10" x2="691.74" y2="237.00" stroke="#000" stroke-width="3.2" />
<line x1="691.74" y1="260.00" x2="691.74" y2="287.90" stroke="#000" stroke-width="3.2" />
<line x1="679.54" y1="209.10" x2="703.94" y2="209.10" stroke="#000" stroke-width="3.2" />
<line x1="679.54" y1="287.90" x2="703.94" y2="287.90" stroke="#000" stroke-width="3.2" />
<line x1="749.80" y1="333.80" x2="749.80" y2="340.30" stroke="#000" stroke-width="3.2" />
<line x1="749.80" y1="363.30" x2="749.80" y2="369.80" stroke="#000" stroke-width="3.2" />
<line x1="737.60" y1="333.80" x2="762.00" y2="333.80" stroke="#000" stroke-width="3.2" />
<line x1="737.60" y1="369.80" x2="762.00" y2="369.80" stroke="#000" stroke-width="3.2" />
<circle cx="401.41" cy="172.20" r="12.15" fill="#000"/>
<circle cx="459.48" cy="167.20" r="12.15" fill="#000"/>
<circle cx="517.54" cy="181.50" r="12.15" fill="#000"/>
<circle cx="575.61" cy="158.00" r="12.15" fill="#000"/>
<circle cx="633.67" cy="181.70" r="12.15" fill="#000"/>
<circle cx="691.74" cy="248.50" r="12.15" fill="#000"/>
<circle cx="749.80" cy="351.80" r="12.15" fill="#000"/>
<circle cx="807.87" cy="467.00" r="12.15" fill="#000"/>
<circle cx="865.93" cy="558.60" r="12.15" fill="#000"/>
<circle cx="924.00" cy="596.00" r="12.15" fill="#000"/>
<rect x="183.75" y="162.05" width="21.5" height="21.5" fill="none" stroke="#808080" stroke-width="3.5" stroke-linejoin="round"/>
<rect x="220.15" y="189.45" width="21.5" height="21.5" fill="none" stroke="#808080" stroke-width="3.5" stroke-linejoin="round"/>
<rect x="269.05" y="198.55" width="21.5" height="21.5" fill="none" stroke="#808080" stroke-width="3.5" stroke-linejoin="round"/>
<rect x="322.85" y="203.75" width="21.5" height="21.5" fill="none" stroke="#808080" stroke-width="3.5" stroke-linejoin="round"/>
<rect x="379.75" y="222.75" width="21.5" height="21.5" fill="none" stroke="#808080" stroke-width="3.5" stroke-linejoin="round"/>
<rect x="437.55" y="336.25" width="21.5" height="21.5" fill="none" stroke="#808080" stroke-width="3.5" stroke-linejoin="round"/>
<rect x="496.05" y="476.25" width="21.5" height="21.5" fill="none" stroke="#808080" stroke-width="3.5" stroke-linejoin="round"/>
<rect x="554.05" y="580.25" width="21.5" height="21.5" fill="none" stroke="#808080" stroke-width="3.5" stroke-linejoin="round"/>
<rect x="611.85" y="594.25" width="21.5" height="21.5" fill="none" stroke="#808080" stroke-width="3.5" stroke-linejoin="round"/>
<rect x="670.15" y="597.85" width="21.5" height="21.5" fill="none" stroke="#808080" stroke-width="3.5" stroke-linejoin="round"/>
<line x1="401.41" y1="121.00" x2="401.41" y2="122.50" stroke="#000" stroke-width="3.2" />
<line x1="401.41" y1="145.50" x2="401.41" y2="147.00" stroke="#000" stroke-width="3.2" />
<line x1="389.21" y1="121.00" x2="413.61" y2="121.00" stroke="#000" stroke-width="3.2" />
<line x1="389.21" y1="147.00" x2="413.61" y2="147.00" stroke="#000" stroke-width="3.2" />
<line x1="459.48" y1="158.00" x2="459.48" y2="167.50" stroke="#000" stroke-width="3.2" />
<line x1="459.48" y1="190.50" x2="459.48" y2="200.00" stroke="#000" stroke-width="3.2" />
<line x1="447.28" y1="158.00" x2="471.68" y2="158.00" stroke="#000" stroke-width="3.2" />
<line x1="447.28" y1="200.00" x2="471.68" y2="200.00" stroke="#000" stroke-width="3.2" />
<line x1="517.54" y1="135.10" x2="517.54" y2="157.20" stroke="#000" stroke-width="3.2" />
<line x1="517.54" y1="180.20" x2="517.54" y2="202.30" stroke="#000" stroke-width="3.2" />
<line x1="505.34" y1="135.10" x2="529.74" y2="135.10" stroke="#000" stroke-width="3.2" />
<line x1="505.34" y1="202.30" x2="529.74" y2="202.30" stroke="#000" stroke-width="3.2" />
<line x1="575.61" y1="123.90" x2="575.61" y2="140.70" stroke="#000" stroke-width="3.2" />
<line x1="575.61" y1="163.70" x2="575.61" y2="180.50" stroke="#000" stroke-width="3.2" />
<line x1="563.41" y1="123.90" x2="587.81" y2="123.90" stroke="#000" stroke-width="3.2" />
<line x1="563.41" y1="180.50" x2="587.81" y2="180.50" stroke="#000" stroke-width="3.2" />
<line x1="633.67" y1="112.40" x2="633.67" y2="121.10" stroke="#000" stroke-width="3.2" />
<line x1="633.67" y1="144.10" x2="633.67" y2="152.80" stroke="#000" stroke-width="3.2" />
<line x1="621.47" y1="112.40" x2="645.87" y2="112.40" stroke="#000" stroke-width="3.2" />
<line x1="621.47" y1="152.80" x2="645.87" y2="152.80" stroke="#000" stroke-width="3.2" />
<line x1="691.74" y1="147.70" x2="691.74" y2="167.10" stroke="#000" stroke-width="3.2" />
<line x1="691.74" y1="190.10" x2="691.74" y2="209.50" stroke="#000" stroke-width="3.2" />
<line x1="679.54" y1="147.70" x2="703.94" y2="147.70" stroke="#000" stroke-width="3.2" />
<line x1="679.54" y1="209.50" x2="703.94" y2="209.50" stroke="#000" stroke-width="3.2" />
<line x1="749.80" y1="105.00" x2="749.80" y2="143.50" stroke="#000" stroke-width="3.2" />
<line x1="749.80" y1="166.50" x2="749.80" y2="205.00" stroke="#000" stroke-width="3.2" />
<line x1="737.60" y1="105.00" x2="762.00" y2="105.00" stroke="#000" stroke-width="3.2" />
<line x1="737.60" y1="205.00" x2="762.00" y2="205.00" stroke="#000" stroke-width="3.2" />
<line x1="807.87" y1="128.60" x2="807.87" y2="143.10" stroke="#000" stroke-width="3.2" />
<line x1="807.87" y1="166.10" x2="807.87" y2="180.60" stroke="#000" stroke-width="3.2" />
<line x1="795.67" y1="128.60" x2="820.07" y2="128.60" stroke="#000" stroke-width="3.2" />
<line x1="795.67" y1="180.60" x2="820.07" y2="180.60" stroke="#000" stroke-width="3.2" />
<line x1="865.93" y1="135.50" x2="865.93" y2="141.10" stroke="#000" stroke-width="3.2" />
<line x1="865.93" y1="164.10" x2="865.93" y2="169.70" stroke="#000" stroke-width="3.2" />
<line x1="853.73" y1="135.50" x2="878.13" y2="135.50" stroke="#000" stroke-width="3.2" />
<line x1="853.73" y1="169.70" x2="878.13" y2="169.70" stroke="#000" stroke-width="3.2" />
<circle cx="401.41" cy="134.00" r="10.5" fill="none" stroke="#000" stroke-width="3.3"/>
<circle cx="459.48" cy="179.00" r="10.5" fill="none" stroke="#000" stroke-width="3.3"/>
<circle cx="517.54" cy="168.70" r="10.5" fill="none" stroke="#000" stroke-width="3.3"/>
<circle cx="575.61" cy="152.20" r="10.5" fill="none" stroke="#000" stroke-width="3.3"/>
<circle cx="633.67" cy="132.60" r="10.5" fill="none" stroke="#000" stroke-width="3.3"/>
<circle cx="691.74" cy="178.60" r="10.5" fill="none" stroke="#000" stroke-width="3.3"/>
<circle cx="749.80" cy="155.00" r="10.5" fill="none" stroke="#000" stroke-width="3.3"/>
<circle cx="807.87" cy="154.60" r="10.5" fill="none" stroke="#000" stroke-width="3.3"/>
<circle cx="865.93" cy="152.60" r="10.5" fill="none" stroke="#000" stroke-width="3.3"/>
<circle cx="924.00" cy="164.60" r="10.5" fill="none" stroke="#000" stroke-width="3.3"/>
<rect x="1332.35" y="199.70" width="21.0" height="21.0" fill="#808080"/>
<rect x="1372.95" y="205.40" width="21.0" height="21.0" fill="#808080"/>
<rect x="1413.56" y="205.40" width="21.0" height="21.0" fill="#808080"/>
<rect x="1454.16" y="208.90" width="21.0" height="21.0" fill="#808080"/>
<rect x="1494.76" y="203.50" width="21.0" height="21.0" fill="#808080"/>
<rect x="1535.37" y="225.90" width="21.0" height="21.0" fill="#808080"/>
<rect x="1575.97" y="264.90" width="21.0" height="21.0" fill="#808080"/>
<rect x="1616.57" y="312.30" width="21.0" height="21.0" fill="#808080"/>
<rect x="1657.17" y="463.00" width="21.0" height="21.0" fill="#808080"/>
<rect x="1697.78" y="527.70" width="21.0" height="21.0" fill="#808080"/>
<rect x="1738.38" y="545.00" width="21.0" height="21.0" fill="#808080"/>
<rect x="1778.98" y="556.20" width="21.0" height="21.0" fill="#808080"/>
<rect x="1819.59" y="567.10" width="21.0" height="21.0" fill="#808080"/>
<rect x="1860.19" y="568.60" width="21.0" height="21.0" fill="#808080"/>
<rect x="1900.79" y="572.50" width="21.0" height="21.0" fill="#808080"/>
<rect x="1941.39" y="575.70" width="21.0" height="21.0" fill="#808080"/>
<rect x="1982.00" y="577.30" width="21.0" height="21.0" fill="#808080"/>
<rect x="2022.60" y="579.20" width="21.0" height="21.0" fill="#808080"/>
<line x1="1342.85" y1="169.30" x2="1342.85" y2="174.80" stroke="#000" stroke-width="3.2" />
<line x1="1342.85" y1="197.80" x2="1342.85" y2="203.30" stroke="#000" stroke-width="3.2" />
<line x1="1330.65" y1="169.30" x2="1355.05" y2="169.30" stroke="#000" stroke-width="3.2" />
<line x1="1330.65" y1="203.30" x2="1355.05" y2="203.30" stroke="#000" stroke-width="3.2" />
<line x1="1383.45" y1="141.70" x2="1383.45" y2="160.20" stroke="#000" stroke-width="3.2" />
<line x1="1383.45" y1="183.20" x2="1383.45" y2="201.70" stroke="#000" stroke-width="3.2" />
<line x1="1371.25" y1="141.70" x2="1395.65" y2="141.70" stroke="#000" stroke-width="3.2" />
<line x1="1371.25" y1="201.70" x2="1395.65" y2="201.70" stroke="#000" stroke-width="3.2" />
<line x1="1411.86" y1="201.50" x2="1436.26" y2="201.50" stroke="#000" stroke-width="3.2" />
<line x1="1411.86" y1="217.50" x2="1436.26" y2="217.50" stroke="#000" stroke-width="3.2" />
<line x1="1464.66" y1="188.50" x2="1464.66" y2="198.30" stroke="#000" stroke-width="3.2" />
<line x1="1464.66" y1="221.30" x2="1464.66" y2="231.10" stroke="#000" stroke-width="3.2" />
<line x1="1452.46" y1="188.50" x2="1476.86" y2="188.50" stroke="#000" stroke-width="3.2" />
<line x1="1452.46" y1="231.10" x2="1476.86" y2="231.10" stroke="#000" stroke-width="3.2" />
<line x1="1505.26" y1="194.30" x2="1505.26" y2="198.30" stroke="#000" stroke-width="3.2" />
<line x1="1505.26" y1="221.30" x2="1505.26" y2="225.30" stroke="#000" stroke-width="3.2" />
<line x1="1493.06" y1="194.30" x2="1517.46" y2="194.30" stroke="#000" stroke-width="3.2" />
<line x1="1493.06" y1="225.30" x2="1517.46" y2="225.30" stroke="#000" stroke-width="3.2" />
<line x1="1545.87" y1="156.40" x2="1545.87" y2="183.50" stroke="#000" stroke-width="3.2" />
<line x1="1545.87" y1="206.50" x2="1545.87" y2="233.60" stroke="#000" stroke-width="3.2" />
<line x1="1533.67" y1="156.40" x2="1558.07" y2="156.40" stroke="#000" stroke-width="3.2" />
<line x1="1533.67" y1="233.60" x2="1558.07" y2="233.60" stroke="#000" stroke-width="3.2" />
<line x1="1586.47" y1="204.00" x2="1586.47" y2="205.50" stroke="#000" stroke-width="3.2" />
<line x1="1586.47" y1="228.50" x2="1586.47" y2="230.00" stroke="#000" stroke-width="3.2" />
<line x1="1574.27" y1="204.00" x2="1598.67" y2="204.00" stroke="#000" stroke-width="3.2" />
<line x1="1574.27" y1="230.00" x2="1598.67" y2="230.00" stroke="#000" stroke-width="3.2" />
<line x1="1614.87" y1="215.00" x2="1639.27" y2="215.00" stroke="#000" stroke-width="3.2" />
<line x1="1614.87" y1="235.00" x2="1639.27" y2="235.00" stroke="#000" stroke-width="3.2" />
<line x1="1667.67" y1="200.00" x2="1667.67" y2="203.50" stroke="#000" stroke-width="3.2" />
<line x1="1667.67" y1="226.50" x2="1667.67" y2="230.00" stroke="#000" stroke-width="3.2" />
<line x1="1655.47" y1="200.00" x2="1679.87" y2="200.00" stroke="#000" stroke-width="3.2" />
<line x1="1655.47" y1="230.00" x2="1679.87" y2="230.00" stroke="#000" stroke-width="3.2" />
<line x1="1708.28" y1="171.70" x2="1708.28" y2="186.60" stroke="#000" stroke-width="3.2" />
<line x1="1708.28" y1="209.60" x2="1708.28" y2="224.50" stroke="#000" stroke-width="3.2" />
<line x1="1696.08" y1="171.70" x2="1720.48" y2="171.70" stroke="#000" stroke-width="3.2" />
<line x1="1696.08" y1="224.50" x2="1720.48" y2="224.50" stroke="#000" stroke-width="3.2" />
<line x1="1748.88" y1="197.80" x2="1748.88" y2="216.30" stroke="#000" stroke-width="3.2" />
<line x1="1748.88" y1="239.30" x2="1748.88" y2="257.80" stroke="#000" stroke-width="3.2" />
<line x1="1736.68" y1="197.80" x2="1761.08" y2="197.80" stroke="#000" stroke-width="3.2" />
<line x1="1736.68" y1="257.80" x2="1761.08" y2="257.80" stroke="#000" stroke-width="3.2" />
<line x1="1789.48" y1="279.90" x2="1789.48" y2="292.00" stroke="#000" stroke-width="3.2" />
<line x1="1789.48" y1="315.00" x2="1789.48" y2="327.10" stroke="#000" stroke-width="3.2" />
<line x1="1777.28" y1="279.90" x2="1801.68" y2="279.90" stroke="#000" stroke-width="3.2" />
<line x1="1777.28" y1="327.10" x2="1801.68" y2="327.10" stroke="#000" stroke-width="3.2" />
<line x1="1830.09" y1="368.80" x2="1830.09" y2="405.90" stroke="#000" stroke-width="3.2" />
<line x1="1830.09" y1="428.90" x2="1830.09" y2="466.00" stroke="#000" stroke-width="3.2" />
<line x1="1817.89" y1="368.80" x2="1842.29" y2="368.80" stroke="#000" stroke-width="3.2" />
<line x1="1817.89" y1="466.00" x2="1842.29" y2="466.00" stroke="#000" stroke-width="3.2" />
<line x1="1870.69" y1="455.60" x2="1870.69" y2="474.80" stroke="#000" stroke-width="3.2" />
<line x1="1870.69" y1="497.80" x2="1870.69" y2="517.00" stroke="#000" stroke-width="3.2" />
<line x1="1858.49" y1="455.60" x2="1882.89" y2="455.60" stroke="#000" stroke-width="3.2" />
<line x1="1858.49" y1="517.00" x2="1882.89" y2="517.00" stroke="#000" stroke-width="3.2" />
<line x1="1911.29" y1="517.30" x2="1911.29" y2="518.50" stroke="#000" stroke-width="3.2" />
<line x1="1911.29" y1="541.50" x2="1911.29" y2="542.70" stroke="#000" stroke-width="3.2" />
<line x1="1899.09" y1="517.30" x2="1923.49" y2="517.30" stroke="#000" stroke-width="3.2" />
<line x1="1899.09" y1="542.70" x2="1923.49" y2="542.70" stroke="#000" stroke-width="3.2" />
<circle cx="1342.85" cy="186.30" r="12.15" fill="#000"/>
<circle cx="1383.45" cy="171.70" r="12.15" fill="#000"/>
<circle cx="1424.06" cy="209.50" r="12.15" fill="#000"/>
<circle cx="1464.66" cy="209.80" r="12.15" fill="#000"/>
<circle cx="1505.26" cy="209.80" r="12.15" fill="#000"/>
<circle cx="1545.87" cy="195.00" r="12.15" fill="#000"/>
<circle cx="1586.47" cy="217.00" r="12.15" fill="#000"/>
<circle cx="1627.07" cy="225.00" r="12.15" fill="#000"/>
<circle cx="1667.67" cy="215.00" r="12.15" fill="#000"/>
<circle cx="1708.28" cy="198.10" r="12.15" fill="#000"/>
<circle cx="1748.88" cy="227.80" r="12.15" fill="#000"/>
<circle cx="1789.48" cy="303.50" r="12.15" fill="#000"/>
<circle cx="1830.09" cy="417.40" r="12.15" fill="#000"/>
<circle cx="1870.69" cy="486.30" r="12.15" fill="#000"/>
<circle cx="1911.29" cy="530.00" r="12.15" fill="#000"/>
<circle cx="1951.89" cy="540.80" r="12.15" fill="#000"/>
<circle cx="1992.50" cy="548.10" r="12.15" fill="#000"/>
<circle cx="2033.10" cy="569.10" r="12.15" fill="#000"/>
<rect x="1332.10" y="183.55" width="21.5" height="21.5" fill="none" stroke="#808080" stroke-width="3.5" stroke-linejoin="round"/>
<rect x="1372.70" y="194.85" width="21.5" height="21.5" fill="none" stroke="#808080" stroke-width="3.5" stroke-linejoin="round"/>
<rect x="1413.31" y="197.55" width="21.5" height="21.5" fill="none" stroke="#808080" stroke-width="3.5" stroke-linejoin="round"/>
<rect x="1453.91" y="174.85" width="21.5" height="21.5" fill="none" stroke="#808080" stroke-width="3.5" stroke-linejoin="round"/>
<rect x="1494.51" y="176.65" width="21.5" height="21.5" fill="none" stroke="#808080" stroke-width="3.5" stroke-linejoin="round"/>
<rect x="1535.12" y="194.85" width="21.5" height="21.5" fill="none" stroke="#808080" stroke-width="3.5" stroke-linejoin="round"/>
<rect x="1575.72" y="206.15" width="21.5" height="21.5" fill="none" stroke="#808080" stroke-width="3.5" stroke-linejoin="round"/>
<rect x="1616.32" y="220.65" width="21.5" height="21.5" fill="none" stroke="#808080" stroke-width="3.5" stroke-linejoin="round"/>
<rect x="1656.92" y="289.55" width="21.5" height="21.5" fill="none" stroke="#808080" stroke-width="3.5" stroke-linejoin="round"/>
<rect x="1697.53" y="489.35" width="21.5" height="21.5" fill="none" stroke="#808080" stroke-width="3.5" stroke-linejoin="round"/>
<rect x="1738.13" y="535.75" width="21.5" height="21.5" fill="none" stroke="#808080" stroke-width="3.5" stroke-linejoin="round"/>
<rect x="1778.73" y="555.95" width="21.5" height="21.5" fill="none" stroke="#808080" stroke-width="3.5" stroke-linejoin="round"/>
<rect x="1819.34" y="566.85" width="21.5" height="21.5" fill="none" stroke="#808080" stroke-width="3.5" stroke-linejoin="round"/>
<rect x="1859.94" y="572.85" width="21.5" height="21.5" fill="none" stroke="#808080" stroke-width="3.5" stroke-linejoin="round"/>
<rect x="1900.54" y="578.05" width="21.5" height="21.5" fill="none" stroke="#808080" stroke-width="3.5" stroke-linejoin="round"/>
<rect x="1941.14" y="584.55" width="21.5" height="21.5" fill="none" stroke="#808080" stroke-width="3.5" stroke-linejoin="round"/>
<rect x="1981.75" y="587.65" width="21.5" height="21.5" fill="none" stroke="#808080" stroke-width="3.5" stroke-linejoin="round"/>
<rect x="2022.35" y="589.85" width="21.5" height="21.5" fill="none" stroke="#808080" stroke-width="3.5" stroke-linejoin="round"/>
<line x1="1545.87" y1="203.80" x2="1545.87" y2="207.30" stroke="#000" stroke-width="3.2" />
<line x1="1545.87" y1="230.30" x2="1545.87" y2="233.80" stroke="#000" stroke-width="3.2" />
<line x1="1533.67" y1="203.80" x2="1558.07" y2="203.80" stroke="#000" stroke-width="3.2" />
<line x1="1533.67" y1="233.80" x2="1558.07" y2="233.80" stroke="#000" stroke-width="3.2" />
<circle cx="1342.85" cy="198.10" r="10.5" fill="none" stroke="#000" stroke-width="3.3"/>
<circle cx="1383.45" cy="201.60" r="10.5" fill="none" stroke="#000" stroke-width="3.3"/>
<circle cx="1424.06" cy="205.50" r="10.5" fill="none" stroke="#000" stroke-width="3.3"/>
<circle cx="1464.66" cy="198.60" r="10.5" fill="none" stroke="#000" stroke-width="3.3"/>
<circle cx="1505.26" cy="204.80" r="10.5" fill="none" stroke="#000" stroke-width="3.3"/>
<circle cx="1545.87" cy="218.80" r="10.5" fill="none" stroke="#000" stroke-width="3.3"/>
<circle cx="1586.47" cy="191.00" r="10.5" fill="none" stroke="#000" stroke-width="3.3"/>
<circle cx="1627.07" cy="214.60" r="10.5" fill="none" stroke="#000" stroke-width="3.3"/>
<circle cx="1667.67" cy="201.20" r="10.5" fill="none" stroke="#000" stroke-width="3.3"/>
<circle cx="1708.28" cy="200.00" r="10.5" fill="none" stroke="#000" stroke-width="3.3"/>
<circle cx="1748.88" cy="197.80" r="10.5" fill="none" stroke="#000" stroke-width="3.3"/>
<circle cx="1789.48" cy="173.10" r="10.5" fill="none" stroke="#000" stroke-width="3.3"/>
<circle cx="1830.09" cy="166.20" r="10.5" fill="none" stroke="#000" stroke-width="3.3"/>
<circle cx="1870.69" cy="180.00" r="10.5" fill="none" stroke="#000" stroke-width="3.3"/>
<circle cx="1911.29" cy="166.20" r="10.5" fill="none" stroke="#000" stroke-width="3.3"/>
<circle cx="1951.89" cy="158.50" r="10.5" fill="none" stroke="#000" stroke-width="3.3"/>
<circle cx="1992.50" cy="170.80" r="10.5" fill="none" stroke="#000" stroke-width="3.3"/>
<circle cx="2033.10" cy="177.30" r="10.5" fill="none" stroke="#000" stroke-width="3.3"/>
<g font-family='"Liberation Sans", Arial, Helvetica, sans-serif' fill="#000">
<text x="770.40" y="811.50" text-anchor="start" font-size="33.4" >AMG 510</text>
<text x="1207.80" y="809.80" text-anchor="start" font-size="33.4" >Trametinib</text>
<text x="794.50" y="861.70" text-anchor="start" font-size="33.4" >CT-26 <tspan font-style="italic" dx="1.0">KRAS p.G12C</tspan></text>
<text x="794.50" y="907.80" text-anchor="start" font-size="33.4" >CT-26</text>
<text x="1231.30" y="861.70" text-anchor="start" font-size="33.4" >CT-26 <tspan font-style="italic" dx="0.5">KRAS p.G12C</tspan></text>
<text x="1231.30" y="907.80" text-anchor="start" font-size="33.4" >CT-26</text>
</g>
<line x1="723.30" y1="849.40" x2="770.90" y2="849.40" stroke="#000" stroke-width="4.0" />
<circle cx="747.00" cy="849.40" r="12.15" fill="#000"/>
<line x1="723.30" y1="896.00" x2="770.90" y2="896.00" stroke="#000" stroke-width="4.0" />
<circle cx="747.00" cy="896.00" r="10.5" fill="none" stroke="#000" stroke-width="3.3"/>
<line x1="1161.20" y1="850.00" x2="1206.70" y2="850.00" stroke="#808080" stroke-width="3.9" />
<rect x="1173.40" y="839.50" width="21.0" height="21.0" fill="#808080"/>
<line x1="1161.00" y1="895.50" x2="1172.00" y2="895.50" stroke="#808080" stroke-width="3.9" />
<line x1="1181.90" y1="895.50" x2="1192.00" y2="895.50" stroke="#808080" stroke-width="3.9" stroke-linecap="round"/>
<line x1="1203.30" y1="895.50" x2="1206.50" y2="895.50" stroke="#808080" stroke-width="3.9" />
<circle cx="1203.3" cy="895.5" r="1.95" fill="#808080"/>
<rect x="1173.05" y="884.75" width="21.5" height="21.5" fill="none" stroke="#808080" stroke-width="3.5" stroke-linejoin="round"/>
</svg>
</body></html>
